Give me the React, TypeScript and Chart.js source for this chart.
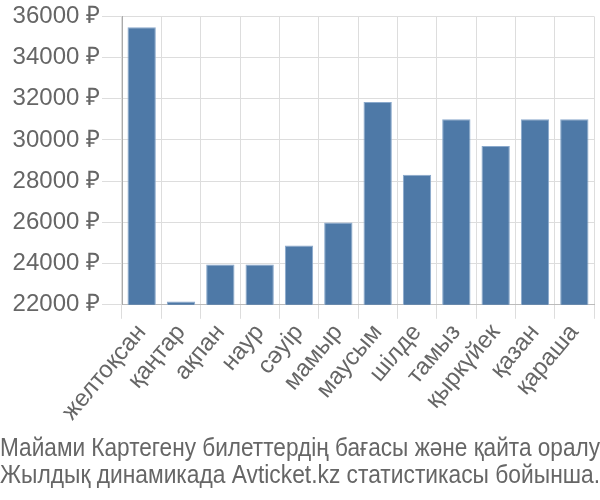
import React, { useEffect, useRef } from "react";
import { Chart, registerables } from "chart.js";

Chart.register(...registerables);

const months = [
  "желтоқсан",
  "қаңтар",
  "ақпан",
  "наур",
  "сәуір",
  "мамыр",
  "маусым",
  "шілде",
  "тамыз",
  "қыркүйек",
  "қазан",
  "қараша",
];

const prices = [35470, 22160, 23960, 23960, 24880, 26000, 31850, 28310, 31010, 29710, 31010, 31010];

const titleLines = [
  "Майами Картегену билеттердің бағасы және қайта оралу",
  "Жылдық динамикада Avticket.kz статистикасы бойынша.",
];

const yMin = 22000;
const yMax = 36000;
const yStep = 2000;
const currency = "₽";

export default function App() {
  const ref = useRef<HTMLCanvasElement | null>(null);

  useEffect(() => {
    document.body.style.margin = "0";
    const canvas = ref.current;
    if (!canvas) return;
    const family = "'Liberation Sans', Arial, sans-serif";
    const chart = new Chart(canvas, {
      type: "bar",
      data: {
        labels: months,
        datasets: [
          {
            data: prices,
            backgroundColor: "#4e79a7",
            borderColor: "#8aa9cc",
            borderWidth: { top: 1, left: 1, right: 1, bottom: 0 },
          },
        ],
      },
      options: {
        animation: false,
        responsive: false,
        layout: { padding: { top: 0, right: 0, left: 0, bottom: 0 } },
        plugins: {
          legend: { display: false },
          tooltip: { enabled: false },
          title: {
            display: true,
            position: "bottom",
            text: titleLines,
            color: "#666",
            font: { size: 25, weight: "normal", family, lineHeight: 1.06 },
            padding: { top: 10, bottom: 11 },
          },
        },
        scales: {
          x: {
            grid: { color: "#ddd", lineWidth: 1, offset: true, tickLength: 14 },
            border: { color: "#bbb" },
            afterFit: (scale: any) => {
              scale.paddingRight = Math.max(scale.paddingRight || 0, 6);
            },
            ticks: {
              color: "#666",
              font: { size: 24, family },
              maxRotation: 50,
              minRotation: 50,
              autoSkip: false,
              padding: 0,
            },
          },
          y: {
            min: yMin,
            max: yMax,
            grid: { color: "#ddd", lineWidth: 1, tickLength: 20 },
            border: { color: "#aaa" },
            afterFit: (scale: any) => {
              scale.width = 122;
            },
            ticks: {
              stepSize: yStep,
              color: "#666",
              font: { size: 24, family },
              padding: 2,
              callback: (v: any) => `${v} ${currency}`,
            },
          },
        },
      },
    });
    return () => chart.destroy();
  }, []);

  return (
    <div style={{ width: 600, height: 500 }}>
      <canvas ref={ref} width={600} height={500} />
    </div>
  );
}
